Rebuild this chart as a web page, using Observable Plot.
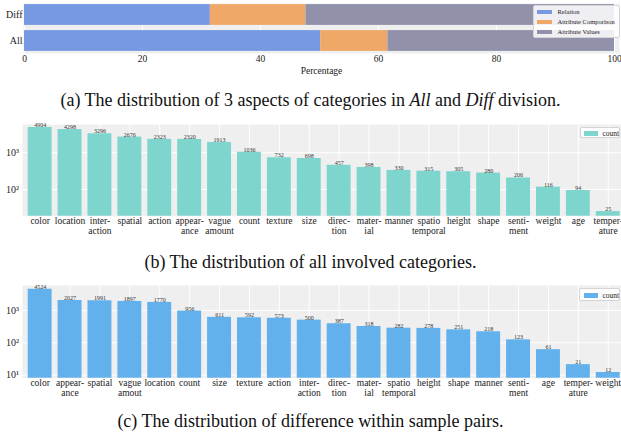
<!DOCTYPE html>
<html><head><meta charset="utf-8">
<script src="https://cdn.jsdelivr.net/npm/d3@7"></script>
<script src="https://cdn.jsdelivr.net/npm/@observablehq/plot@0.6"></script>
<style>
body{margin:0;background:#fff;}
#root{position:relative;width:621px;height:433px;overflow:hidden;font-family:"Liberation Serif","Times New Roman",serif;color:#111;}
#root svg, #root svg text{font-family:"Liberation Serif","Times New Roman",serif !important;}
.panel{position:absolute;left:0;}
.cap{position:absolute;left:0;width:621px;text-align:center;font-size:18px;line-height:24px;color:#111;white-space:nowrap;}
.legend{position:absolute;background:rgba(255,255,255,0.85);border:1px solid #d4d4d4;border-radius:2px;color:#222;box-sizing:border-box;}
.legend .sw{position:absolute;}
.legend .lb{position:absolute;white-space:nowrap;}
</style>
</head><body>
<div id="root"></div>
<script>
// ---- data ----
const divisions = ["Diff", "All"];
const aspects = ["Relation", "Attribute Comporison", "Attribute Values"];
const aspectColors = ["#7799e1", "#f0a868", "#9191ab"];
const diffShares = [31.5, 16.2, 52.3];
const allShares = [50.2, 11.4, 38.4];
const percentTicks = [0, 20, 40, 60, 80, 100];

const allCategories = ["color","location","inter-\naction","spatial","action","appear-\nance","vague\namount","count","texture","size","direc-\ntion","mater-\nial","manner","spatio\ntemporal","height","shape","senti-\nment","weight","age","temper-\nature"];
const allCounts = [4904,4298,3296,2676,2323,2320,1913,1036,732,698,457,398,330,315,305,280,206,116,94,25];

const diffCategories = ["color","appear-\nance","spatial","vague\namout","location","count","size","texture","action","inter-\naction","direc-\ntion","mater-\nial","spatio\ntemporal","height","shape","manner","senti-\nment","age","temper-\nature","weight"];
const diffCounts = [4524,2027,1991,1897,1770,956,611,592,573,500,387,318,282,278,251,218,123,61,21,12];

const allTicks = [100, 1000];
const diffTicks = [10, 100, 1000];

const root = document.getElementById("root");
const FONT = "Liberation Serif";
const BG = "#efefef";
const sup = {1: "\u00b9", 2: "\u00b2", 3: "\u00b3"};
const fmtPow = d => "10" + sup[Math.round(Math.log10(d))];

function place(el, top) {
  const w = document.createElement("div");
  w.className = "panel";
  w.style.top = top + "px";
  w.appendChild(el);
  root.appendChild(w);
}
function caption(html, top) {
  const d = document.createElement("div");
  d.className = "cap";
  d.style.top = top + "px";
  d.innerHTML = html;
  root.appendChild(d);
}
function legend(items, colors, box, sw, fontSize, rowGap, firstRow, textX) {
  const d = document.createElement("div");
  d.className = "legend";
  Object.assign(d.style, {left: box[0] + "px", top: box[1] + "px", width: box[2] + "px", height: box[3] + "px", fontSize: fontSize + "px"});
  items.forEach((t, i) => {
    const cy = firstRow + i * rowGap;
    const s = document.createElement("div");
    s.className = "sw";
    Object.assign(s.style, {left: sw[0] + "px", top: (cy - sw[2] / 2) + "px", width: sw[1] + "px", height: sw[2] + "px", background: colors[i]});
    const l = document.createElement("div");
    l.className = "lb";
    Object.assign(l.style, {left: textX + "px", top: (cy - fontSize * 0.62) + "px", lineHeight: (fontSize * 1.2) + "px"});
    l.textContent = t;
    d.appendChild(s); d.appendChild(l);
  });
  root.appendChild(d);
}

// ---- panel (a) ----
const shareRows = [];
divisions.forEach(div => {
  const vals = div === "Diff" ? diffShares : allShares;
  aspects.forEach((a, i) => shareRows.push({div, aspect: a, v: vals[i]}));
});
const pa = Plot.plot({
  width: 621, height: 80,
  marginLeft: 23, marginRight: 2, marginTop: 3, marginBottom: 27,
  style: {fontFamily: FONT, fontSize: "9.5px", color: "#222", background: "transparent", overflow: "visible"},
  x: {domain: [0, 100], range: [24, 614]},
  y: {domain: divisions, range: [1.5, 53.5], paddingInner: 0.2, paddingOuter: 0.1, round: false},
  color: {domain: aspects, range: aspectColors},
  marks: [
    Plot.frame({fill: BG, stroke: "none"}),
    Plot.gridX(percentTicks, {stroke: "#fff", strokeOpacity: 1, strokeWidth: 1}),
    Plot.barX(shareRows, Plot.stackX({y: "div", x: "v", fill: "aspect"})),
    Plot.axisX(percentTicks, {tickSize: 0, tickPadding: 2, fontSize: 9.5, fontFamily: FONT, label: "Percentage", labelAnchor: "center", labelArrow: "none", labelOffset: 20}),
    Plot.axisY({tickSize: 0, tickPadding: 1, fontSize: 10, fontFamily: FONT, label: null})
  ]
});
place(pa, 0);
legend(aspects, aspectColors, [533, 5, 87, 33], [3, 15, 4.5], 6.5, 10, 6, 23.5);
caption('(a) The distribution of 3 aspects of categories in <i>All</i> and <i>Diff</i> division.', 88);

// ---- bar panels (b), (c) ----
function barPanel(cats, counts, color, yDomain, yTicks, height, mt, mb) {
  const data = cats.map((c, i) => ({cat: c, n: counts[i]}));
  return Plot.plot({
    width: 621, height,
    marginLeft: 22, marginRight: 0, marginTop: mt, marginBottom: mb,
    style: {fontFamily: FONT, fontSize: "9.5px", color: "#222", background: "transparent", overflow: "visible"},
    x: {domain: cats, range: [24.7, 622.7], paddingInner: 0.2, paddingOuter: 0.1, round: false, label: null},
    y: {type: "log", domain: yDomain, label: null},
    marks: [
      Plot.frame({fill: BG, stroke: "none"}),
      Plot.gridX({stroke: "#fff", strokeOpacity: 1, strokeWidth: 1}),
      Plot.gridY(yTicks, {stroke: "#fff", strokeOpacity: 1, strokeWidth: 1}),
      Plot.barY(data, {x: "cat", y1: yDomain[0], y2: "n", fill: color}),
      Plot.text(data, {x: "cat", y: "n", text: d => String(d.n), dy: -0.5, lineAnchor: "bottom", fontSize: 6, fontFamily: FONT, fill: "#333"}),
      Plot.axisX({tickSize: 0, tickPadding: 1.5, lineHeight: 0.98, fontSize: 9.5, fontFamily: FONT, label: null}),
      Plot.axisY(yTicks, {tickSize: 0, tickPadding: 3.5, tickFormat: fmtPow, fontSize: 10, fontFamily: FONT, label: null})
    ]
  });
}

place(barPanel(allCategories, allCounts, "#7ed5ce", [18.7, 5900], allTicks, 130, 6, 32.3), 118);
legend(["count"], ["#7ed5ce"], [580, 126.7, 40, 11.6], [2.7, 14, 5.5], 7.5, 10, 5.6, 21.5);
caption('(b) The distribution of all involved categories.', 250);

place(barPanel(diffCategories, diffCounts, "#62b0ec", [8, 5900], diffTicks, 132, 7, 32.3), 278);
legend(["count"], ["#62b0ec"], [579, 288.3, 41, 12.7], [3.7, 14, 5.5], 7.5, 10, 6.2, 22.5);
caption('(c) The distribution of difference within sample pairs.', 409);
</script>
</body></html>
